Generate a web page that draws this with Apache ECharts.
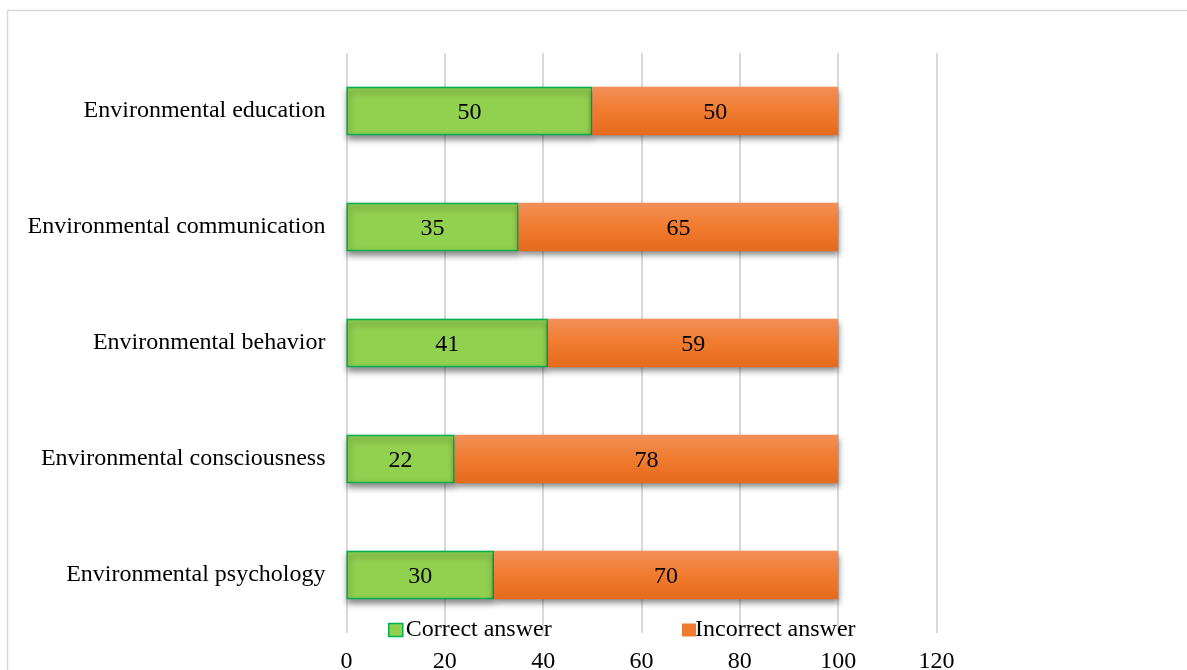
<!DOCTYPE html>
<html>
<head>
<meta charset="utf-8">
<style>html,body{margin:0;padding:0;background:#fff;}#c{width:1187px;height:670px;}</style>
<script src="https://cdn.jsdelivr.net/npm/echarts@6/dist/echarts.min.js"></script>
</head>
<body>
<div id="c"></div>
<script>
const categories = ['Environmental psychology','Environmental consciousness','Environmental behavior','Environmental communication','Environmental education'];
const correct = [30, 22, 41, 35, 50];
const incorrect = [70, 78, 59, 65, 50];
const xTicks = [0, 20, 40, 60, 80, 100, 120];

const FONT = '"Liberation Serif", "Times New Roman", serif';
const chart = echarts.init(document.getElementById('c'), null, {renderer: 'canvas'});
const shadow = {shadowColor: 'rgba(0,0,0,0.45)', shadowBlur: 6, shadowOffsetX: 1, shadowOffsetY: 4};
chart.setOption({
  animation: false,
  backgroundColor: '#fff',
  graphic: [{type: 'rect', shape: {x: 7.5, y: 10.5, width: 1300, height: 800}, style: {fill: 'none', stroke: '#D9D9D9', lineWidth: 1.5}, z: -1}],
  grid: {left: 346.5, right: 250.5, top: 53, bottom: 37, containLabel: false, outerBoundsMode: 'none'},
  legend: [
    {data: [{name: 'Correct answer', icon: 'rect', itemStyle: {color: '#92D050', borderColor: '#00B050', borderWidth: 1.5, shadowBlur: 0, shadowOffsetX: 0, shadowOffsetY: 0}}],
     left: 383, top: 613, itemWidth: 14, itemHeight: 13, itemGap: 0,
     textStyle: {fontFamily: FONT, fontSize: 24, color: '#000', padding: [0,0,0,-2]}},
    {data: [{name: 'Incorrect answer', icon: 'rect', itemStyle: {color: '#F07B2E', shadowBlur: 0, shadowOffsetX: 0, shadowOffsetY: 0}}],
     left: 677, top: 613, itemWidth: 14, itemHeight: 13,
     textStyle: {fontFamily: FONT, fontSize: 24, color: '#000', padding: [0,0,0,-6]}}
  ],
  xAxis: {
    type: 'value', min: 0, max: 120, interval: 20,
    axisLine: {show: false}, axisTick: {show: false},
    splitLine: {lineStyle: {color: '#D9D9D9', width: 2}},
    axisLabel: {fontFamily: FONT, fontSize: 24, color: '#000', margin: 17,
      formatter: v => xTicks.includes(v) ? String(v) : ''}
  },
  yAxis: {
    type: 'category', data: categories,
    axisLine: {show: false}, axisTick: {show: false},
    axisLabel: {fontFamily: FONT, fontSize: 24, color: '#000', margin: 21, padding: [4, 0, 0, 0]}
  },
  series: [
    {name: 'Correct answer', type: 'bar', stack: 's', data: correct, barWidth: '42%',
     itemStyle: Object.assign({color: '#92D050', borderColor: '#00B050', borderWidth: 1.5}, shadow),
     label: {show: true, position: 'inside', offset: [0, 2], fontFamily: FONT, fontSize: 24, color: '#000'}},
    {name: 'Incorrect answer', type: 'bar', stack: 's', data: incorrect, barWidth: '42%',
     itemStyle: Object.assign({color: new echarts.graphic.LinearGradient(0,0,0,1,[{offset:0,color:'#F29058'},{offset:0.5,color:'#F07B2E'},{offset:1,color:'#E56A1E'}])}, shadow),
     label: {show: true, position: 'inside', offset: [0, 2], fontFamily: FONT, fontSize: 24, color: '#000'}}
  ]
});
</script>
</body>
</html>
